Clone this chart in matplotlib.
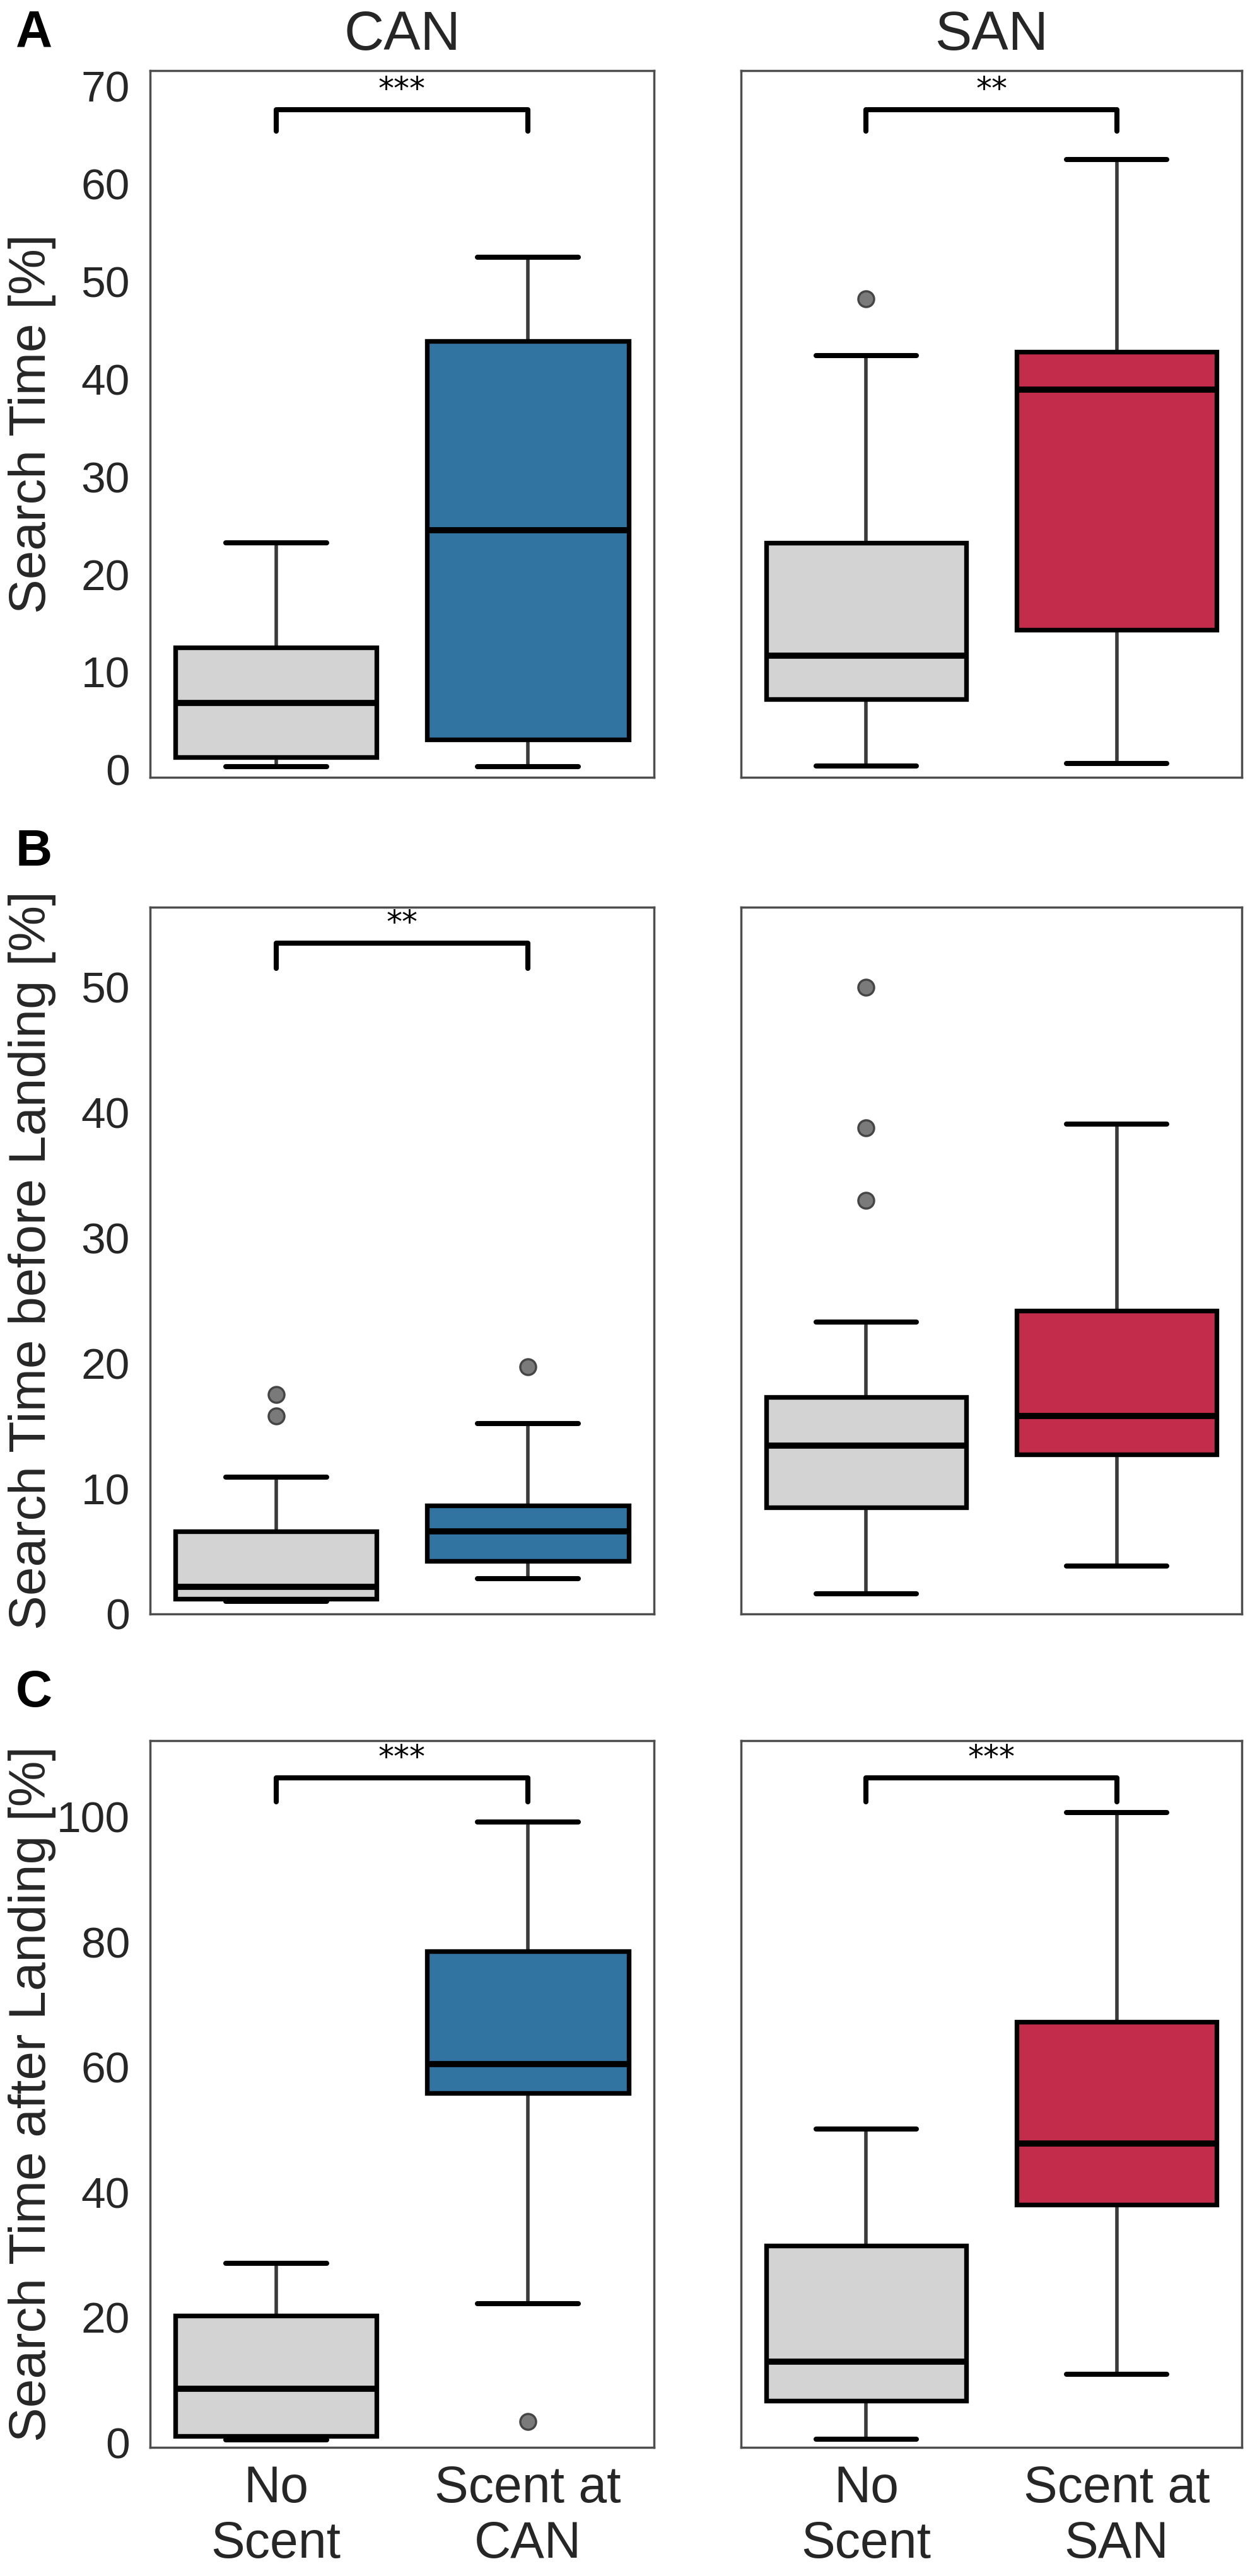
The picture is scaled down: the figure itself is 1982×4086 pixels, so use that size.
import matplotlib.pyplot as plt

plt.rcParams['font.family'] = ['Liberation Sans', 'DejaVu Sans']

#______________________________ DATOS __________________________________________
conds_can = ['No\nScent', 'Scent at\nCAN']
conds_san = ['No\nScent', 'Scent at\nSAN']
col_titles = ['CAN', 'SAN']
row_letters = ['A', 'B', 'C']
row_labels = ['Search Time [%]', 'Search Time before Landing [%]',
              'Search Time after Landing [%]']

# cada caja: [bigote bajo, Q1, mediana, Q3, bigote alto]
search_can = [[0.3, 1.3, 6.8, 12.5, 23.2], [0.3, 3.1, 24.5, 43.9, 52.5]]
search_san = [[0.4, 7.2, 11.7, 23.2, 42.4], [0.6, 14.3, 38.9, 42.8, 62.5]]
search_can_out = [[], []]
search_san_out = [[48.2], []]

before_can = [[1.0, 1.2, 2.15, 6.6, 10.9], [2.8, 4.2, 6.6, 8.65, 15.2]]
before_san = [[1.6, 8.5, 13.45, 17.3, 23.3], [3.8, 12.7, 15.8, 24.2, 39.1]]
before_can_out = [[15.8, 17.5], [19.7]]
before_san_out = [[33.0, 38.8, 50.0], []]

after_can = [[0.4, 1.0, 8.6, 20.3, 28.6], [22.2, 55.9, 60.5, 78.5, 99.2]]
after_san = [[0.5, 6.7, 12.9, 31.5, 50.1], [10.9, 38.0, 47.8, 67.2, 100.7]]
after_can_out = [[], [3.3]]
after_san_out = [[], []]

# significancia por fila: (CAN, SAN)
sig_marks = [['***', '**'], ['**', ''], ['***', '***']]

#___________________________ ESTILO / LAYOUT ___________________________________
gray = '#d3d3d3'
blue = '#3274a1'
red = '#c32d4b'
txt = '#262626'

ylims = [(-0.8, 71.6), (0.2, 56.4), (-0.8, 112.2)]
yticks = [range(0, 71, 10), range(0, 51, 10), range(0, 101, 20)]
bracket_top = [67.6, 53.5, 106.2]
bracket_drop = [2.2, 2.0, 3.8]

col_x = [0.1200, 0.5925]
col_w = [0.4029, 0.4005]
row_y = [0.6982, 0.3735, 0.0499]
row_h = 0.2744
letter_y = [0.9821, 0.6640, 0.3375]

panels = [
    [(search_can, search_can_out), (search_san, search_san_out)],
    [(before_can, before_can_out), (before_san, before_san_out)],
    [(after_can, after_can_out), (after_san, after_san_out)],
]


def make_stats(boxes, outs):
    stats = []
    for b, o in zip(boxes, outs):
        stats.append(dict(whislo=b[0], q1=b[1], med=b[2], q3=b[3], whishi=b[4], fliers=o))
    return stats


def draw_panel(ax, boxes, outs, color, r, c):
    parts = ax.bxp(make_stats(boxes, outs), positions=[0, 1], widths=0.8,
                   capwidths=0.4, patch_artist=True, showfliers=True,
                   boxprops=dict(edgecolor='black', linewidth=5.3, zorder=3),
                   medianprops=dict(color='black', linewidth=7, zorder=4),
                   whiskerprops=dict(color='#3a3a3a', linewidth=4, zorder=2),
                   capprops=dict(color='black', linewidth=5.8, solid_capstyle='round', zorder=3),
                   flierprops=dict(marker='o', markersize=18, markerfacecolor='#7a7a7a',
                                   markeredgecolor='#454545', markeredgewidth=2.5, zorder=3))
    for patch, fc in zip(parts['boxes'], [gray, color]):
        patch.set_facecolor(fc)

    ax.set_xlim(-0.5, 1.5)
    ax.set_ylim(*ylims[r])
    ax.set_yticks(list(yticks[r]))
    ax.tick_params(axis='both', length=0, labelcolor=txt)
    ax.tick_params(axis='y', pad=23, labelsize=50)
    ax.tick_params(axis='x', pad=20, labelsize=58)
    for sp in ax.spines.values():
        sp.set_color('#4d4d4d')
        sp.set_linewidth(2.5)

    # corchete de significancia
    mark = sig_marks[r][c]
    if mark:
        top = bracket_top[r]
        low = top - bracket_drop[r]
        ax.plot([0, 0, 1, 1], [low, top, top, low], color='black', lw=5.8,
                solid_joinstyle='round', solid_capstyle='round', zorder=5)
        ax.annotate(mark, xy=(0.5, top), xytext=(0, 5), textcoords='offset points',
                    ha='center', va='bottom', fontsize=36, color='black',
                    family='DejaVu Sans')


#____________________________ PRINCIPAL ________________________________________
fig = plt.figure(figsize=(19.83, 40.86), dpi=100)

for r in range(3):
    for c in range(2):
        ax = fig.add_axes([col_x[c], row_y[r], col_w[c], row_h])
        boxes, outs = panels[r][c]
        draw_panel(ax, boxes, outs, blue if c == 0 else red, r, c)

        if r == 2:
            ax.set_xticks([0, 1])
            ax.set_xticklabels(conds_can if c == 0 else conds_san)
        else:
            ax.set_xticks([])
        if c == 0:
            ax.set_ylabel(row_labels[r], fontsize=59, color=txt)
            ax.yaxis.set_label_coords(-0.186, 0.5)
        else:
            ax.set_yticklabels([])
        if r == 0:
            ax.set_title(col_titles[c], fontsize=63, color=txt, pad=24)

    fig.text(0.0126, letter_y[r], row_letters[r], fontsize=58, fontweight='bold',
             color='black', ha='left', va='baseline')

fig.savefig('out.png', dpi=100, facecolor='white')
